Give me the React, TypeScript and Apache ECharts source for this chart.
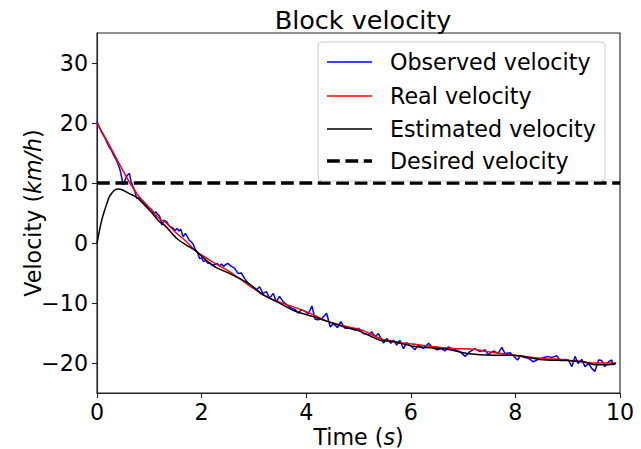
import React, { useEffect, useRef } from "react";
import * as echarts from "echarts";

const observed: [number, number][] = [
  [0, 20.3], [0.04, 19.4], [0.08, 18.6], [0.12, 18.0], [0.16, 17.4], [0.2, 16.6], [0.24, 15.9], [0.28, 15.4],
  [0.32, 14.6], [0.36, 14.0], [0.4, 13.2], [0.44, 12.2], [0.47, 11.0], [0.5, 9.7], [0.54, 10.6], [0.58, 11.3],
  [0.62, 11.6], [0.65, 10.3], [0.68, 9.6], [0.72, 8.7], [0.76, 7.4], [0.8, 7.6], [0.85, 6.9], [0.88, 7.0],
  [0.92, 6.3], [0.96, 6.1], [1.0, 5.8], [1.04, 5.6], [1.08, 5.0], [1.12, 5.2], [1.17, 4.7], [1.2, 4.4],
  [1.24, 3.0], [1.28, 3.8], [1.33, 3.55], [1.37, 3.0], [1.4, 2.7], [1.45, 2.5], [1.49, 2.1], [1.53, 2.4],
  [1.57, 2.0], [1.6, 2.3], [1.65, 1.05], [1.69, 1.6], [1.72, 1.2], [1.76, 0.5], [1.8, 0.2], [1.84, -0.2],
  [1.88, -1.1], [1.92, -1.5], [1.96, -2.6], [2.0, -2.5], [2.04, -3.1], [2.08, -2.9], [2.12, -3.4], [2.16, -3.3],
  [2.2, -3.7], [2.25, -3.6], [2.3, -3.4], [2.34, -3.8], [2.38, -3.5], [2.42, -3.9], [2.46, -3.6], [2.5, -3.4],
  [2.57, -3.9], [2.63, -4.2], [2.7, -5.1], [2.76, -5.0], [2.82, -5.9], [2.89, -6.7], [2.95, -7.3], [3.05, -7.8],
  [3.11, -7.3], [3.17, -8.4], [3.24, -8.1], [3.3, -9.2], [3.37, -8.4], [3.43, -9.8], [3.49, -8.9], [3.56, -9.8],
  [3.69, -10.7], [3.79, -11.1], [3.85, -11.7], [3.91, -11.1], [3.98, -11.4], [4.04, -11.8], [4.11, -10.5], [4.17, -12.7],
  [4.23, -12.8], [4.3, -12.6], [4.39, -11.7], [4.46, -14.0], [4.52, -13.4], [4.6, -14.1], [4.66, -13.1], [4.74, -14.2],
  [4.84, -14.2], [4.93, -14.5], [5.0, -14.2], [5.09, -15.1], [5.19, -15.3], [5.25, -14.8], [5.32, -15.6], [5.38, -15.1],
  [5.48, -16.7], [5.54, -15.9], [5.62, -16.7], [5.67, -16.2], [5.73, -17.0], [5.79, -16.2], [5.86, -17.6], [5.92, -16.6],
  [6.02, -17.3], [6.08, -17.8], [6.14, -17.0], [6.24, -17.6], [6.34, -16.7], [6.4, -17.3], [6.5, -17.8], [6.59, -17.6],
  [6.65, -18.0], [6.72, -17.3], [6.78, -17.6], [6.85, -17.8], [6.94, -18.1], [7.04, -18.9], [7.13, -18.1], [7.23, -17.6],
  [7.32, -18.1], [7.42, -17.8], [7.48, -18.6], [7.58, -18.0], [7.67, -18.4], [7.74, -17.4], [7.8, -18.4], [7.9, -18.3],
  [7.96, -18.8], [8.04, -19.5], [8.1, -18.8], [8.18, -19.1], [8.25, -19.2], [8.34, -19.8], [8.44, -19.4], [8.53, -19.1],
  [8.63, -18.9], [8.69, -19.1], [8.79, -18.8], [8.85, -19.5], [8.95, -19.4], [9.01, -19.5], [9.08, -20.6], [9.14, -18.9],
  [9.2, -20.1], [9.27, -19.4], [9.33, -20.6], [9.4, -20.1], [9.46, -20.9], [9.52, -21.4], [9.59, -19.5], [9.65, -19.6],
  [9.71, -20.6], [9.78, -19.8], [9.84, -19.5], [9.87, -20.3], [9.92, -20.0],
];

const real: [number, number][] = [
  [0, 20], [0.2, 16.9], [0.4, 13.6], [0.63, 10.0], [0.8, 7.8], [1.0, 5.9], [1.2, 4.0], [1.3, 3.5],
  [1.5, 1.8], [1.7, 0.3], [1.87, -1.2], [2.0, -2.0], [2.2, -3.1], [2.54, -4.8], [2.8, -6.4], [3.0, -7.6],
  [3.17, -8.6], [3.5, -9.9], [3.84, -10.9], [4.14, -12.0], [4.42, -13.1], [4.77, -13.9], [5.09, -14.6], [5.41, -15.9],
  [5.66, -16.4], [5.99, -16.8], [6.37, -17.2], [6.81, -17.6], [7.2, -17.7], [7.45, -18.1], [7.96, -18.7], [8.47, -19.2],
  [8.98, -19.5], [9.49, -20.0], [9.92, -20.0],
];

const estimated: [number, number][] = [
  [0, 0], [0.05, 2.2], [0.09, 3.8], [0.14, 5.3], [0.19, 6.6], [0.23, 7.6], [0.28, 8.3], [0.35, 8.9],
  [0.41, 9.0], [0.5, 8.8], [0.6, 8.3], [0.7, 7.9], [0.79, 7.4], [0.9, 6.4], [1.0, 5.5], [1.1, 4.5],
  [1.2, 3.5], [1.3, 2.9], [1.52, 0.8], [1.7, -0.3], [1.87, -1.2], [2.0, -2.2], [2.16, -3.4], [2.3, -4.2],
  [2.54, -5.1], [2.7, -5.8], [2.89, -6.7], [3.0, -7.4], [3.17, -8.6], [3.5, -10.05], [3.75, -11.2], [4.14, -12.3],
  [4.42, -13.1], [4.77, -14.1], [5.0, -14.6], [5.41, -16.2], [5.66, -16.4], [6.05, -17.2], [6.69, -17.7], [7.07, -18.4],
  [7.57, -18.7], [7.96, -18.7], [8.47, -19.4], [8.98, -19.6], [9.3, -19.8], [9.55, -20.3], [9.75, -20.3], [9.92, -20.1],
];

const desired: [number, number][] = [[0, 10], [10, 10]];

const yTicks = [-20, -10, 0, 10, 20, 30];
const xTicks = [0, 2, 4, 6, 8, 10];
const seriesNames = ["Observed velocity", "Real velocity", "Estimated velocity", "Desired velocity"];
const seriesColors = ["#0000ff", "#ff0000", "#000000", "#000000"];

const FONT = "'DejaVu Sans', sans-serif";
const FS = 22.2;

export default function App() {
  const ref = useRef<HTMLDivElement>(null);
  useEffect(() => {
    if (!ref.current) return;
    const chart = echarts.init(ref.current, undefined, { renderer: "svg" });
    const fmt = (v: number) => String(v).replace("-", "\u2212");

    const legendX = 318, legendY = 42, legendW = 287, legendH = 139;
    const rowY = [62, 96, 129, 161];
    const legendEls: any[] = [
      {
        type: "rect",
        shape: { x: legendX, y: legendY, width: legendW, height: legendH, r: 4 },
        style: { fill: "rgba(255,255,255,0.8)", stroke: "#cccccc", lineWidth: 1 },
        z: 100,
      },
    ];
    seriesNames.forEach((name, i) => {
      const dashed = i === 3;
      legendEls.push({
        type: "line",
        shape: { x1: 327, y1: rowY[i], x2: 372, y2: rowY[i] },
        style: {
          stroke: seriesColors[i],
          lineWidth: dashed ? 3.5 : 1.5,
          lineDash: dashed ? [12.8, 5.6] : null,
        },
        z: 101,
      });
      legendEls.push({
        type: "text",
        style: {
          text: name,
          x: 390,
          y: rowY[i],
          fill: "#000",
          font: `${FS}px ${FONT}`,
          verticalAlign: "middle",
          align: "left",
        },
        z: 101,
      });
    });

    const nameStyle = {
      fontFamily: FONT,
      fontSize: FS,
      lineHeight: 22,
      color: "#000",
      rich: { i: { fontFamily: FONT, fontSize: FS, lineHeight: 22, fontStyle: "italic", color: "#000" } },
    };

    chart.setOption({
      animation: false,
      backgroundColor: "#ffffff",
      title: {
        text: "Block velocity",
        left: 358,
        top: 2,
        textAlign: "center",
        textStyle: { fontFamily: FONT, fontSize: 25.5, fontWeight: "normal", color: "#000" },
      },
      grid: {
        left: 97,
        right: 21,
        top: 33,
        bottom: 56,
        show: true,
        borderColor: "#222",
        borderWidth: 1.1,
        outerBoundsMode: "none",
        containLabel: false,
      },
      xAxis: {
        type: "value",
        min: 0,
        max: 10,
        interval: 2,
        splitLine: { show: false },
        axisLine: { show: true, onZero: false, lineStyle: { color: "#222", width: 1.1 } },
        axisTick: { show: true, length: 5, lineStyle: { color: "#222", width: 1.1 }, customValues: xTicks },
        axisLabel: {
          customValues: xTicks,
          margin: 8,
          color: "#000",
          fontFamily: FONT,
          fontSize: FS,
          formatter: (v: number) => fmt(v),
        },
        name: "Time ({i|s})",
        nameLocation: "middle",
        nameMoveOverlap: false,
        nameGap: 33,
        nameTextStyle: nameStyle,
      },
      yAxis: {
        type: "value",
        min: -25,
        max: 35,
        splitLine: { show: false },
        axisLine: { show: true, onZero: false, lineStyle: { color: "#222", width: 1.1 } },
        axisTick: { show: true, length: 5, lineStyle: { color: "#222", width: 1.1 }, customValues: yTicks },
        axisLabel: {
          customValues: yTicks,
          margin: 9,
          color: "#000",
          fontFamily: FONT,
          fontSize: FS,
          formatter: (v: number) => fmt(v),
        },
        name: "Velocity ({i|km/h})",
        nameLocation: "middle",
        nameMoveOverlap: false,
        nameGap: 53,
        nameTextStyle: nameStyle,
      },
      series: [
        {
          name: seriesNames[0],
          type: "line",
          data: observed,
          symbol: "none",
          lineStyle: { color: seriesColors[0], width: 1.5 },
          z: 2,
        },
        {
          name: seriesNames[1],
          type: "line",
          data: real,
          symbol: "none",
          smooth: 0.3,
          lineStyle: { color: seriesColors[1], width: 1.5 },
          z: 3,
        },
        {
          name: seriesNames[2],
          type: "line",
          data: estimated,
          symbol: "none",
          smooth: 0.3,
          lineStyle: { color: seriesColors[2], width: 1.5 },
          z: 4,
        },
        {
          name: seriesNames[3],
          type: "line",
          data: desired,
          symbol: "none",
          lineStyle: { color: seriesColors[3], width: 3.5, type: [12.8, 5.6] },
          z: 5,
        },
      ],
      graphic: legendEls,
    });
    return () => chart.dispose();
  }, []);
  return (
    <div
      ref={ref}
      style={{ position: "absolute", left: 0, top: 0, width: 641, height: 449 }}
    />
  );
}
